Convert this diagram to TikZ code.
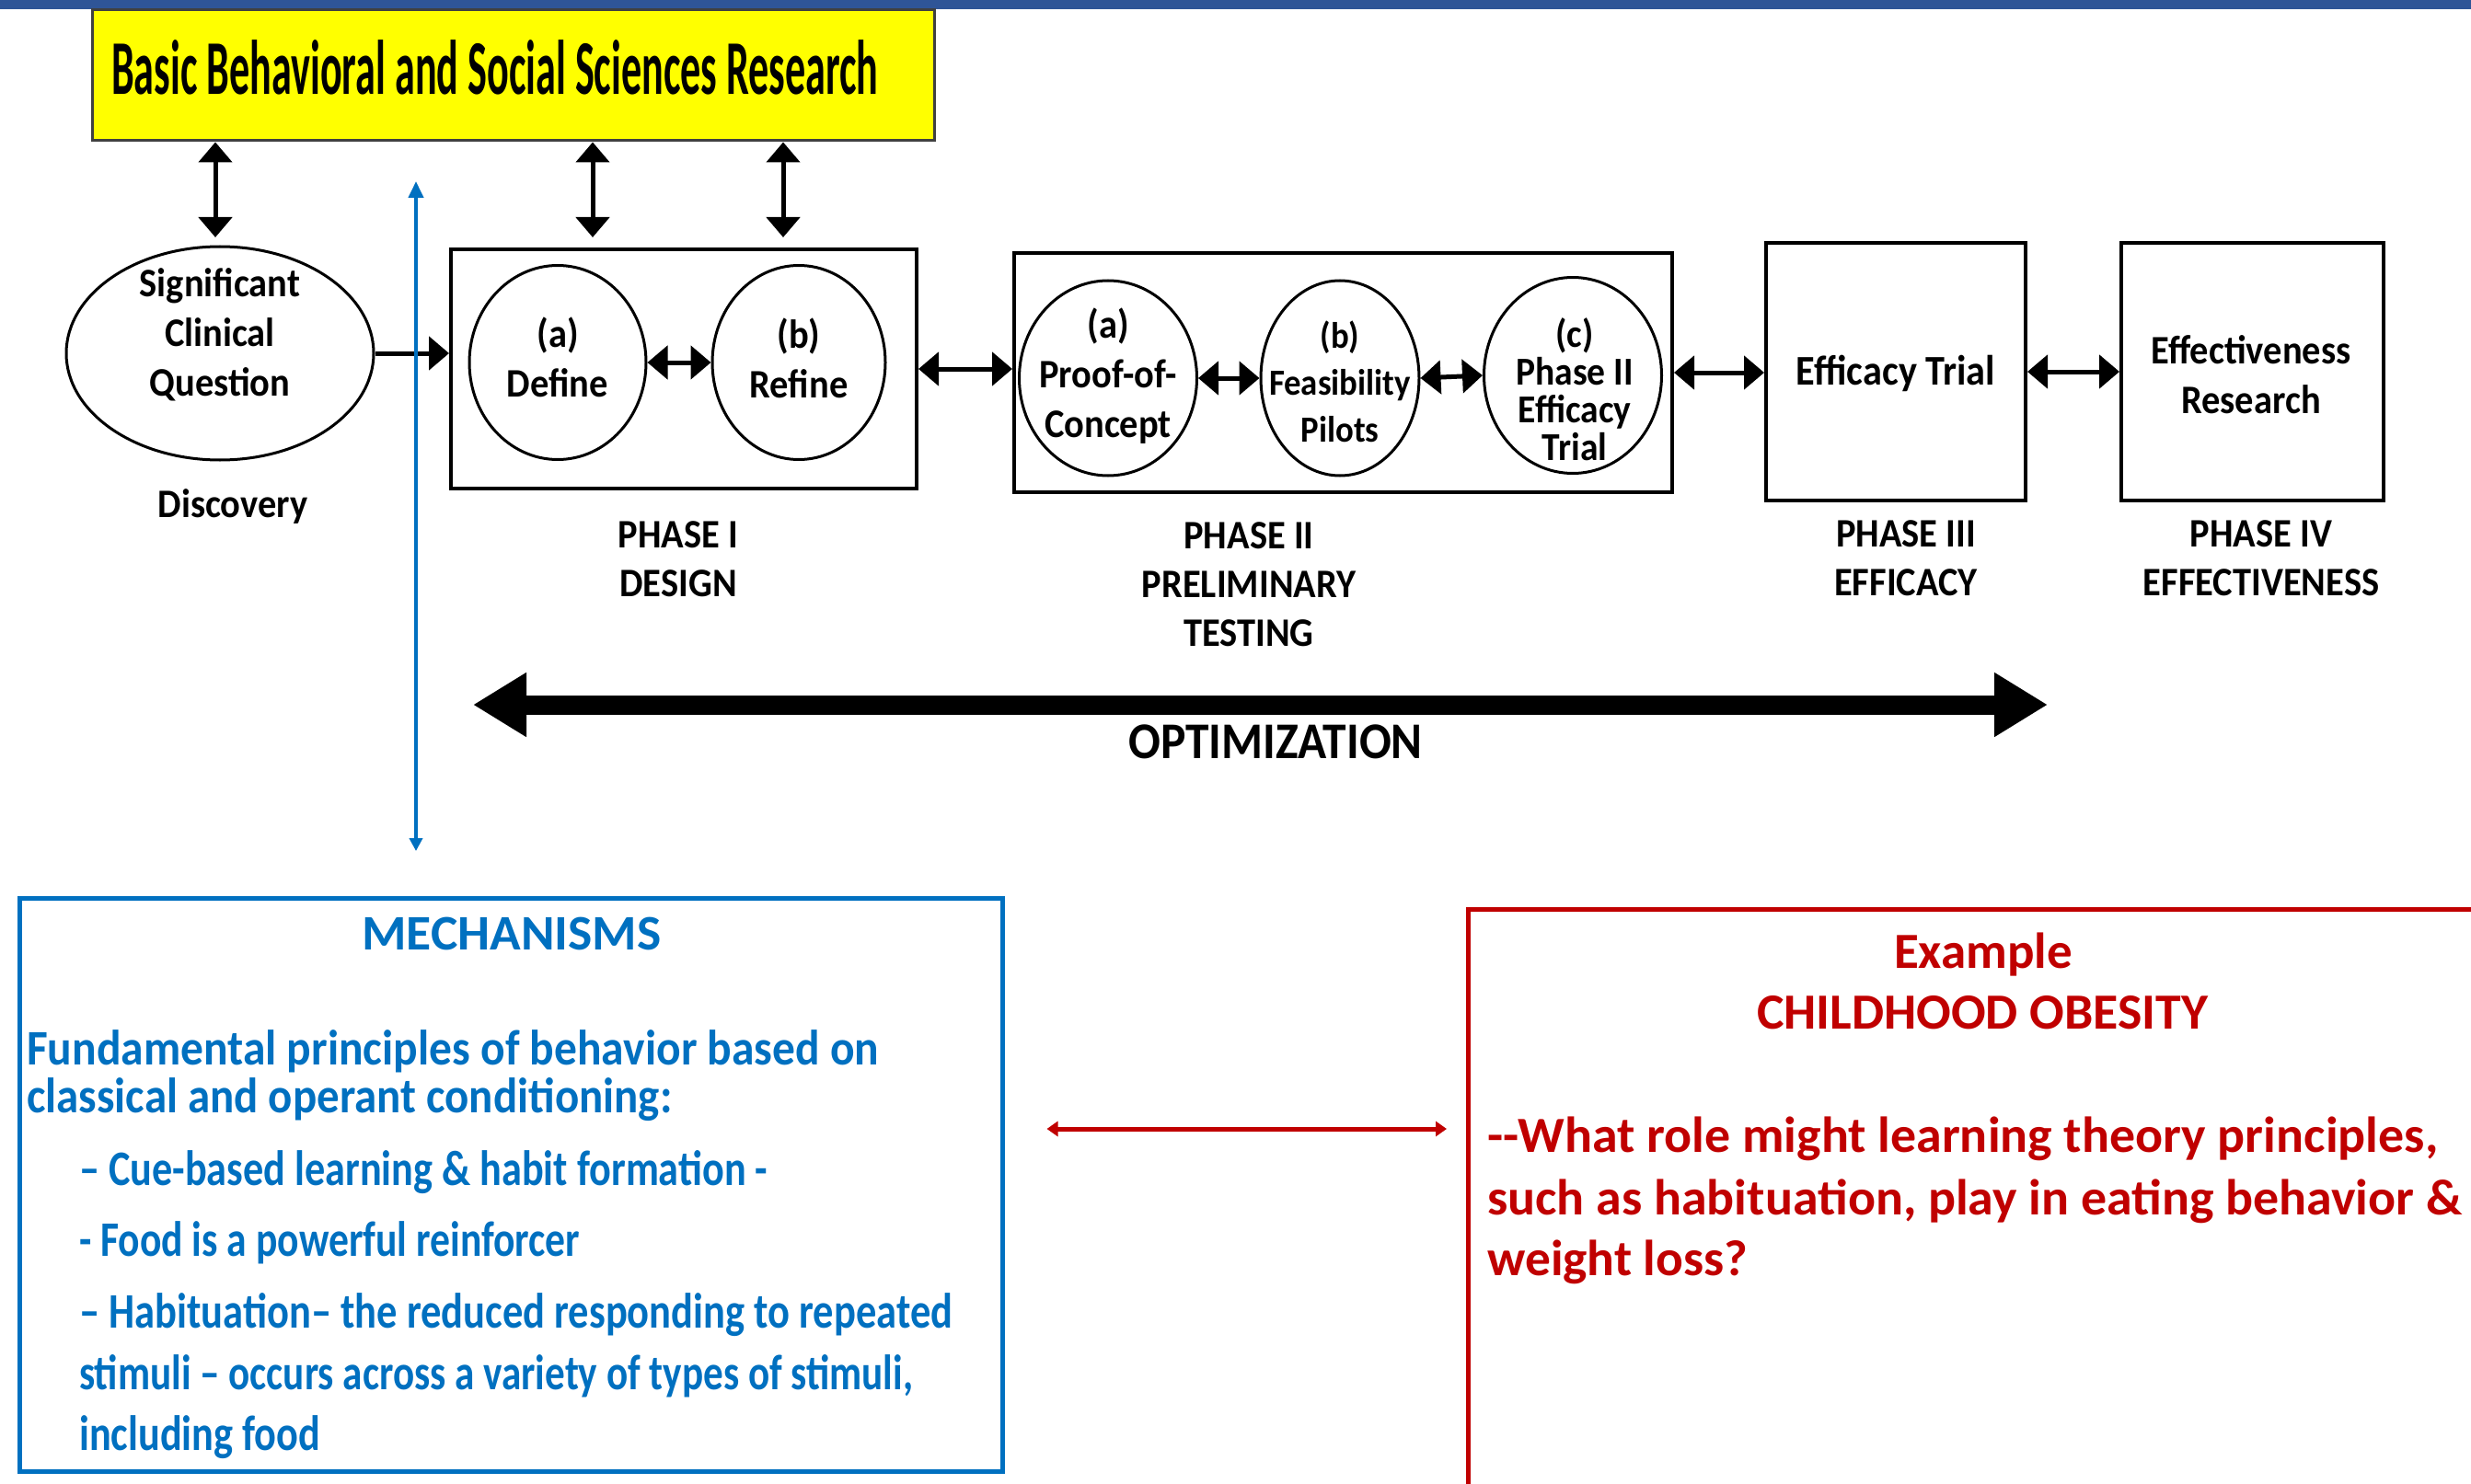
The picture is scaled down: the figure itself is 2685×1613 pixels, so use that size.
\documentclass[tikz,border=0pt]{standalone}
\usepackage{fontspec}
\setmainfont{Carlito}
\newfontfamily\upf[FakeStretch=0.92]{Carlito}
\usetikzlibrary{arrows.meta,shapes.geometric}
\definecolor{topbar}{HTML}{2F5597}
\definecolor{mblue}{HTML}{0070C0}
\definecolor{mred}{HTML}{C00000}
\definecolor{yel}{HTML}{FFFF00}
\newcommand\fitw[2]{\resizebox{#1}{\height}{#2}}
\begin{document}
\begin{tikzpicture}[x=1pt,y=-1pt,
  ell/.style={draw, ellipse, line width=3pt, inner sep=0pt},
  pbox/.style={draw, rectangle, line width=4pt, inner sep=0pt},
  ut/.style={font=\upf\bfseries\fontsize{44}{54}\selectfont, align=center, inner sep=0pt},
  plab/.style={font=\upf\bfseries\fontsize{44}{53}\selectfont, align=center, inner sep=0pt},
  dbl/.style={{Triangle[width=36pt,length=22pt]}-{Triangle[width=36pt,length=22pt]}, line width=5pt},
  sgl/.style={-{Triangle[width=36pt,length=22pt]}, line width=5pt},
  bluearr/.style={{Triangle[width=16pt,length=18pt]}-{Triangle[width=14pt,length=14pt]}, line width=4pt, draw=mblue},
  redarr/.style={{Triangle[width=16pt,length=12pt]}-{Triangle[width=16pt,length=12pt]}, line width=5pt, draw=mred},
  btxt/.style={font=\bfseries\fontsize{54}{60}\selectfont, text=mblue, inner sep=0pt, anchor=base west},
  rtxt/.style={font=\bfseries\fontsize{55}{60}\selectfont, text=mred, inner sep=0pt}
]
\useasboundingbox (0,0) rectangle (2685,1613);
\fill[white] (0,0) rectangle (2685,1613);
% top bar
\fill[topbar] (0,0) rectangle (2685,10);

% yellow box
\node[draw=black!75, fill=yel, line width=3pt, rectangle, minimum width=915pt, minimum height=142pt, inner sep=0pt] (yel) at (557.5,82) {};
\node[anchor=base west, inner sep=0pt] (yelt) at (121,103) {\resizebox{833pt}{59pt}{\bfseries Basic Behavioral and Social Sciences Research}};

% discovery ellipse
\node[ell, minimum width=334pt, minimum height=232pt] (sq) at (239,384) {};
\node[ut] (sqt) at (239,364) {Significant\\Clinical\\Question};
\node[ut] (disc) at (253,551) {Discovery};

% phase I
\node[pbox, minimum width=506pt, minimum height=260pt] (p1) at (743,401) {};
\node[ell, minimum width=192pt, minimum height=211pt] (def) at (606,394) {};
\node[ut] (deft) at (606,388) {(a)\\Define};
\node[ell, minimum width=188pt, minimum height=211pt] (ref) at (868,394) {};
\node[ut] (reft) at (868,389) {(b)\\Refine};
\node[plab] (p1l) at (737,608) {PHASE I\\DESIGN};

% phase II
\node[pbox, minimum width=715pt, minimum height=260pt] (p2) at (1459.5,405) {};
\node[ell, minimum width=193pt, minimum height=212pt] (poc) at (1204,411) {};
\node[ut] (poct) at (1204,409) {(a)\\Proof-of-\\Concept};
\node[ell, minimum width=172pt, minimum height=212pt] (fea) at (1456,411) {};
\node[ut, font=\upf\bfseries\fontsize{40}{51}\selectfont] (feat) at (1456,415) {(b)\\Feasibility\\Pilots};
\node[ell, minimum width=193pt, minimum height=213pt] (e2) at (1709,408) {};
\node[ut, font=\upf\bfseries\fontsize{43}{41}\selectfont] (e2t) at (1711,423) {(c)\\Phase II\\Efficacy\\Trial};
\node[plab] (p2l) at (1357,635) {PHASE II\\PRELIMINARY\\TESTING};

% phase III
\node[pbox, minimum width=282pt, minimum height=280pt] (p3) at (2060,404) {};
\node[ut, font=\upf\bfseries\fontsize{46}{54}\selectfont] (p3t) at (2060,406) {Efficacy Trial};
\node[plab] (p3l) at (2071,607) {PHASE III\\EFFICACY};

% phase IV
\node[pbox, minimum width=285pt, minimum height=280pt] (p4) at (2447.5,404) {};
\node[ut] (p4t) at (2446,407) {Effectiveness\\Research};
\node[plab] (p4l) at (2457,607) {PHASE IV\\EFFECTIVENESS};

% vertical arrows from yellow box
\coordinate (a1) at (234,258);
\coordinate (a2) at (644,258);
\coordinate (a3) at (851,258);
\draw[dbl] (yel.south -| a1) -- (a1);
\draw[dbl] (yel.south -| a2) -- (a2);
\draw[dbl] (yel.south -| a3) -- (a3);

% horizontal arrows
\draw[sgl] (sq.east) -- (sq.east -| p1.west);
\draw[dbl] (def.east) -- (ref.west);
\draw[dbl] (p1.east) -- (p1.east -| p2.west);
\draw[dbl] (poc.east) -- (fea.west);
\draw[dbl] (fea.east) -- (e2.west);
\draw[dbl] (p2.east) -- (p2.east -| p3.west);
\draw[dbl] (p3.east) -- (p4.west);

% blue vertical line
\coordinate (bt) at (452,197);
\coordinate (bb) at (452,925);
\draw[bluearr] (bt) -- (bb);

% optimization arrow
\coordinate (ol) at (514,766);
\coordinate (or) at (2225,766);
\draw[line width=21pt, {Triangle[length=58pt,width=66pt]}-{Triangle[length=58pt,width=66pt]}] (ol) -- (or);
\node[ut, font=\upf\bfseries\fontsize{56}{60}\selectfont] (opt) at (1386,806) {OPTIMIZATION};

% mechanisms box
\node[draw=mblue, line width=5pt, rectangle, minimum width=1068pt, minimum height=623pt, inner sep=0pt] (mech) at (555,1287.5) {};
\node[btxt, anchor=base] (mt) at (556,1032) {\fitw{325pt}{MECHANISMS}};
\node[btxt] (m1) at (29,1157) {\fitw{926pt}{Fundamental principles of behavior based on}};
\node[btxt] (m2) at (29,1209) {\fitw{701pt}{classical and operant conditioning:}};
\node[btxt] (m3) at (86,1288) {\fitw{748pt}{– Cue-based learning \& habit formation -}};
\node[btxt] (m4) at (86,1365) {\fitw{544pt}{- Food is a powerful reinforcer}};
\node[btxt] (m5) at (86,1443) {\fitw{949pt}{– Habituation– the reduced responding to repeated}};
\node[btxt] (m6) at (86,1510) {\fitw{906pt}{stimuli – occurs across a variety of types of stimuli,}};
\node[btxt] (m7) at (86,1576) {\fitw{262pt}{including food}};

% red box (open to the right and bottom)
\coordinate (redtl) at (1595,988);
\draw[mred, line width=5pt] (1595,1613) -- (redtl) -- (2685,988);
\node[rtxt, anchor=base] (ex) at (2155,1052) {Example};
\node[rtxt, anchor=base] (co) at (2154,1118) {\fitw{490pt}{CHILDHOOD OBESITY}};
\node[rtxt, anchor=base west] (r1) at (1616,1252) {\fitw{1033pt}{-{}-What role might learning theory principles,}};
\node[rtxt, anchor=base west] (r2) at (1616,1320) {\fitw{1059pt}{such as habituation, play in eating behavior \&}};
\node[rtxt, anchor=base west] (r3) at (1616,1386) {\fitw{283pt}{weight loss?}};

% red double arrow between boxes
\coordinate (ry) at (0,1227);
\draw[redarr, shorten <=46pt, shorten >=23pt] (mech.east |- ry) -- (redtl |- ry);
\end{tikzpicture}
\end{document}
